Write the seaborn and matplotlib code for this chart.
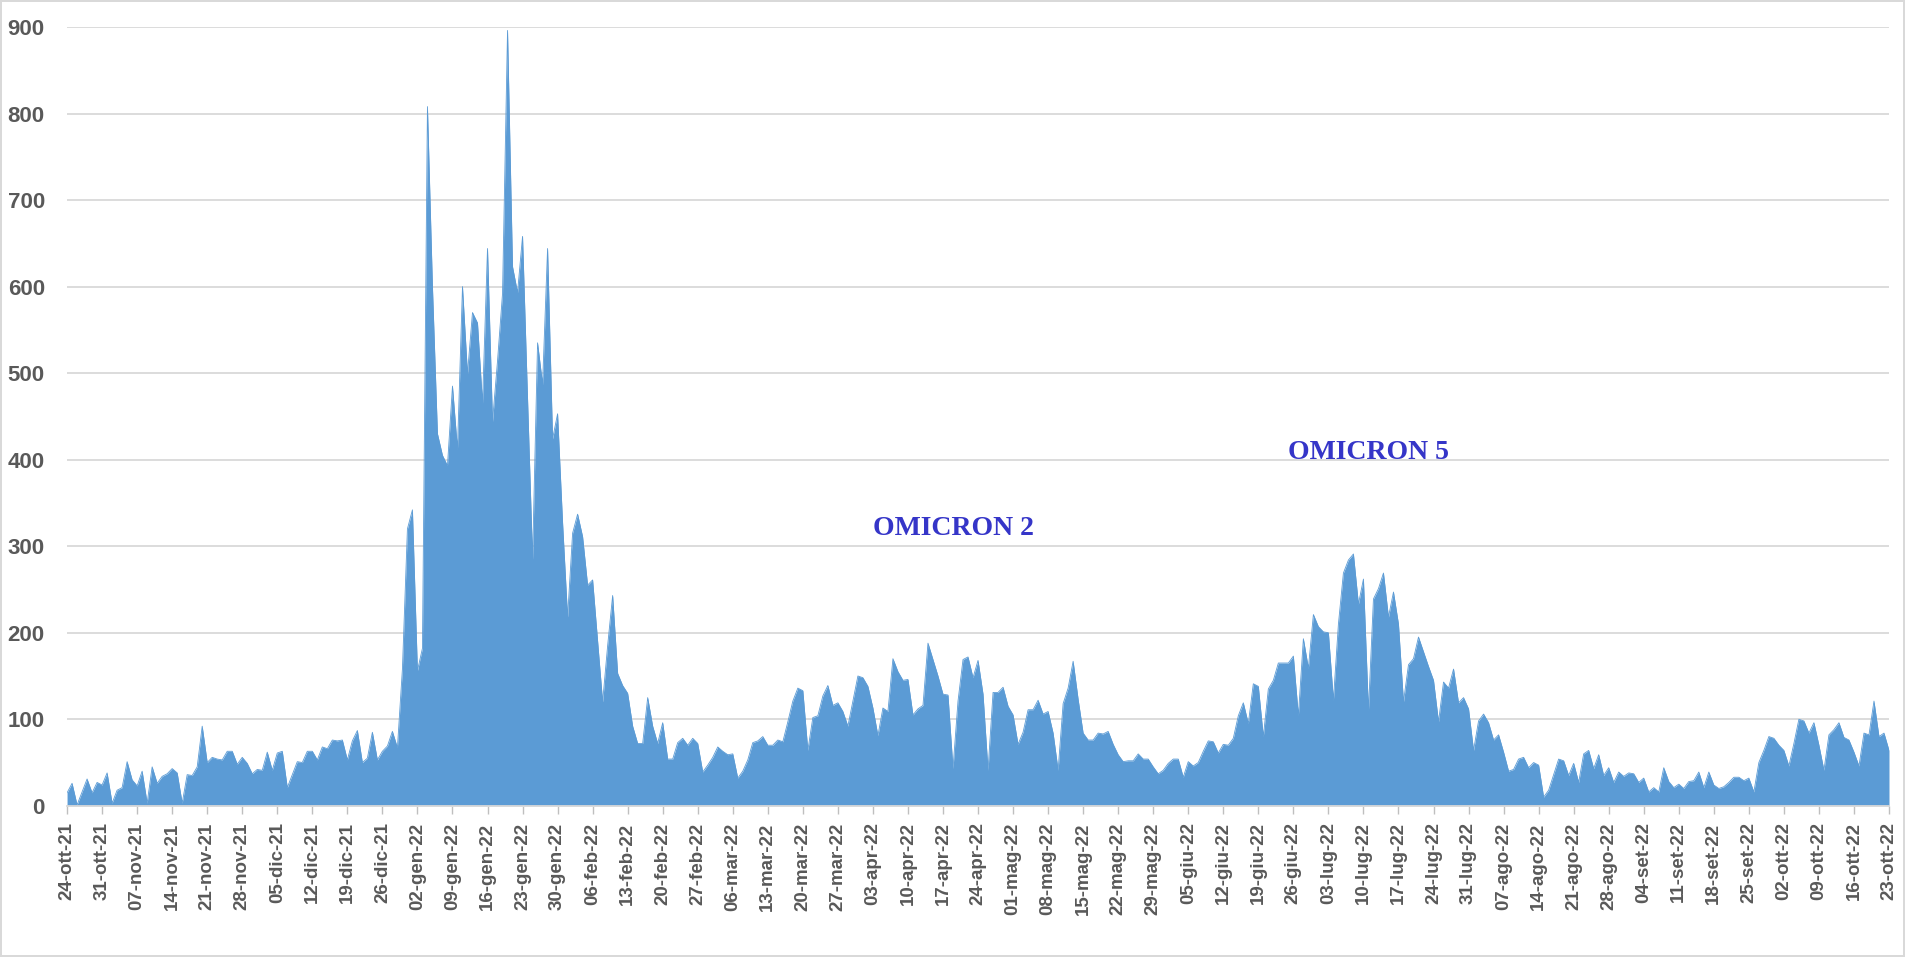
import numpy as np
import pandas as pd
import matplotlib
matplotlib.use("Agg")
import matplotlib.pyplot as plt
import seaborn as sns

# valori giornalieri (24-ott-21 -> 23-ott-22)
ott21 = [15, 26, 1, 16, 31, 15, 27, 24]
nov21 = [38, 3, 18, 21, 51, 30, 23, 40, 3, 45, 26, 34, 37, 43, 38, 3, 36, 35, 45, 92,
         50, 56, 54, 53, 63, 63, 48, 56, 49, 37]
dic21 = [42, 41, 62, 41, 61, 63, 21, 36, 51, 50, 63, 63, 53, 68, 66, 76, 75, 76, 53, 75,
         87, 50, 55, 85, 53, 63, 69, 86, 67, 158, 320]
gen22 = [342, 156, 182, 808, 600, 430, 405, 393, 485, 412, 600, 499, 570, 558, 465, 644,
         444, 514, 592, 896, 623, 593, 658, 470, 285, 535, 487, 644, 424, 453, 327]
feb22 = [218, 315, 337, 311, 255, 261, 190, 120, 185, 243, 153, 139, 130, 92, 72, 72,
         125, 92, 72, 96, 54, 54, 73, 78, 70, 78, 72, 39]
mar22 = [47, 56, 68, 63, 59, 60, 32, 40, 53, 73, 75, 80, 70, 70, 76, 74, 97, 121, 136,
         133, 64, 102, 104, 127, 139, 116, 119, 109, 92, 121, 150]
apr22 = [148, 138, 113, 81, 113, 109, 170, 155, 145, 146, 105, 112, 116, 188, 169, 150,
         129, 128, 43, 121, 169, 172, 148, 168, 129, 41, 131, 131, 137, 115]
mag22 = [105, 71, 85, 111, 111, 122, 106, 109, 84, 41, 118, 136, 167, 123, 84, 76, 76,
         84, 83, 86, 71, 59, 51, 52, 52, 60, 54, 54, 45, 37, 41]
giu22 = [49, 54, 54, 33, 51, 46, 50, 63, 75, 74, 61, 71, 70, 78, 104, 119, 95, 141, 138,
         80, 135, 145, 165, 165, 165, 173, 104, 193, 159, 221]
lug22 = [207, 201, 200, 122, 210, 269, 284, 291, 233, 262, 110, 239, 251, 269, 218, 247,
         210, 120, 163, 170, 195, 178, 161, 145, 97, 143, 136, 158, 119, 125, 112]
ago22 = [64, 98, 106, 96, 76, 82, 62, 40, 42, 54, 56, 44, 50, 47, 10, 18, 36, 54, 52, 35,
         49, 27, 60, 64, 43, 59, 35, 44, 27, 39, 34]
set22 = [38, 37, 27, 32, 16, 21, 16, 44, 28, 21, 25, 20, 28, 29, 39, 21, 39, 24, 20, 22,
         27, 33, 33, 29, 32, 16, 50, 64, 80, 78]
ott22 = [70, 64, 46, 72, 100, 98, 84, 96, 70, 41, 82, 88, 96, 79, 76, 62, 46, 84, 82,
         121, 80, 84, 64]

mesi = ["gen", "feb", "mar", "apr", "mag", "giu", "lug", "ago", "set", "ott", "nov", "dic"]
y_ticks = list(range(0, 1000, 100))

valori = (ott21 + nov21 + dic21 + gen22 + feb22 + mar22 + apr22 + mag22 + giu22 +
          lug22 + ago22 + set22 + ott22)
date = pd.date_range("2021-10-24", "2022-10-23", freq="D")
df = pd.DataFrame({"data": date, "valore": valori})

sns.set_theme(style="white")
plt.rcParams["font.family"] = ["Liberation Sans", "DejaVu Sans"]

blu = "#5b9bd5"
grigio = "#595959"

fig = plt.figure(figsize=(19.05, 9.57), dpi=100)
ax = fig.add_axes([0.0352, 0.158, 0.9564, 0.8138])

sns.lineplot(data=df, x="data", y="valore", color=blu, linewidth=0.6, ax=ax)
ax.fill_between(df["data"], df["valore"], 0, color=blu, linewidth=0)

ax.set_xlim(date[0], date[-1])
ax.set_ylim(0, 900)
ax.set_yticks(y_ticks)
ax.set_yticklabels([str(v) for v in y_ticks], fontsize=16, fontweight="bold", color=grigio)
ax.yaxis.grid(True, color="#d9d9d9", linewidth=1.3)
ax.set_axisbelow(True)

tick_date = date[::7]
ax.set_xticks(tick_date)
ax.set_xticklabels([f"{d.day:02d}-{mesi[d.month - 1]}-{d.strftime('%y')}" for d in tick_date],
                   rotation=90, fontsize=13.5, fontweight="bold", color=grigio)
ax.tick_params(axis="x", which="major", bottom=True, length=6, width=1, color="#bfbfbf", pad=6)
ax.tick_params(axis="y", length=0, pad=16)

for s in ["top", "right", "left"]:
    ax.spines[s].set_visible(False)
ax.spines["bottom"].set_color("#d9d9d9")
ax.spines["bottom"].set_linewidth(1.3)

ax.set_xlabel("")
ax.set_ylabel("")

ax.text(pd.Timestamp("2022-04-19"), 320, "OMICRON 2", color="#3535c8", fontsize=20,
        fontweight="bold", family=["Liberation Serif", "DejaVu Serif"], ha="center", va="center")
ax.text(pd.Timestamp("2022-07-11"), 408, "OMICRON 5", color="#3535c8", fontsize=20,
        fontweight="bold", family=["Liberation Serif", "DejaVu Serif"], ha="center", va="center")

fig.patch.set_edgecolor("#d9d9d9")
fig.patch.set_linewidth(1.5)

fig.savefig("out.png", dpi=100, edgecolor=fig.get_edgecolor())
